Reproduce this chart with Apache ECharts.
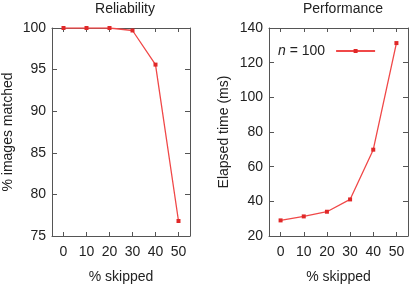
<!DOCTYPE html>
<html>
<head>
<meta charset="utf-8">
<script src="https://cdn.jsdelivr.net/npm/echarts@6/dist/echarts.min.js"></script>
<style>
  html, body { margin: 0; padding: 0; background: #fff; }
  #chart { width: 409px; height: 289px; }
</style>
</head>
<body>
<div id="chart"></div>
<script>
const skipped = ["0", "10", "20", "30", "40", "50"];
const matched = [100, 100, 100, 99.7, 95.6, 76.8];
const elapsed = [29, 31.3, 34, 41.1, 69.8, 131.3];

const FONT = "Liberation Sans";
const AXIS = "#555";
const INK = "#222";
const RED = "#f04848";

const el = document.getElementById("chart");
const chart = echarts.init(el, null, { renderer: "canvas" });

function xAxes(gridIndex) {
  const base = {
    type: "category",
    gridIndex,
    data: skipped,
    boundaryGap: true,
    axisLine: { lineStyle: { color: AXIS, width: 1 } },
    axisTick: { show: true, inside: true, length: 4, alignWithLabel: true, lineStyle: { color: AXIS } },
    splitLine: { show: false },
  };
  return [
    {
      ...base,
      position: "bottom",
      name: "% skipped",
      nameLocation: "middle",
      nameGap: 34,
      nameTextStyle: { fontFamily: FONT, fontSize: 14, color: INK },
      axisLabel: { fontFamily: FONT, fontSize: 14, color: INK, margin: 9 },
    },
    { ...base, position: "top", axisLabel: { show: false } },
  ];
}

function yAxes(gridIndex, min, max, interval, name, gap) {
  const base = {
    type: "value",
    gridIndex,
    min, max, interval,
    axisLine: { show: true, lineStyle: { color: AXIS, width: 1 } },
    axisTick: { show: true, inside: true, length: 5, lineStyle: { color: AXIS } },
    splitLine: { show: false },
  };
  return [
    {
      ...base,
      position: "left",
      name,
      nameLocation: "middle",
      nameGap: gap,
      nameTextStyle: { fontFamily: FONT, fontSize: 14, color: INK },
      axisLabel: { fontFamily: FONT, fontSize: 14, color: INK, margin: 6 },
    },
    { ...base, position: "right", axisLabel: { show: false } },
  ];
}

const lineStyle = { color: RED, width: 1.3 };
const itemStyle = { color: "#e02828" };

chart.setOption({
  animation: false,
  title: [
    { text: "Reliability", left: 120, top: -3, textAlign: "center",
      textStyle: { fontFamily: FONT, fontSize: 14, fontWeight: "normal", color: INK } },
    { text: "Performance", left: 338, top: -3, textAlign: "center",
      textStyle: { fontFamily: FONT, fontSize: 14, fontWeight: "normal", color: INK } },
  ],
  legend: {
    data: ["n100"],
    left: 273,
    top: 39,
    align: "right",
    itemWidth: 39,
    itemHeight: 5,
    itemGap: 0,
    formatter: () => "{i|n} = 100",
    textStyle: {
      fontFamily: FONT, fontSize: 14, color: INK, padding: [0, 6, 0, 0],
      rich: { i: { fontFamily: FONT, fontSize: 14, fontStyle: "italic", color: INK } },
    },
  },
  grid: [
    { left: 51, right: 219, top: 28, bottom: 45 },
    { left: 269, right: 1, top: 28, bottom: 45 },
  ],
  xAxis: [...xAxes(0), ...xAxes(1)],
  yAxis: [
    ...yAxes(0, 75, 100, 5, "% images matched", 37),
    ...yAxes(1, 20, 140, 20, "Elapsed time (ms)", 38),
  ],
  series: [
    {
      name: "reliability",
      type: "line",
      xAxisIndex: 0,
      yAxisIndex: 0,
      data: matched,
      symbol: "rect",
      symbolSize: 4,
      lineStyle,
      itemStyle,
    },
    {
      name: "n100",
      type: "line",
      xAxisIndex: 2,
      yAxisIndex: 2,
      data: elapsed,
      symbol: "rect",
      symbolSize: 4,
      lineStyle,
      itemStyle,
    },
  ],
});
</script>
</body>
</html>
